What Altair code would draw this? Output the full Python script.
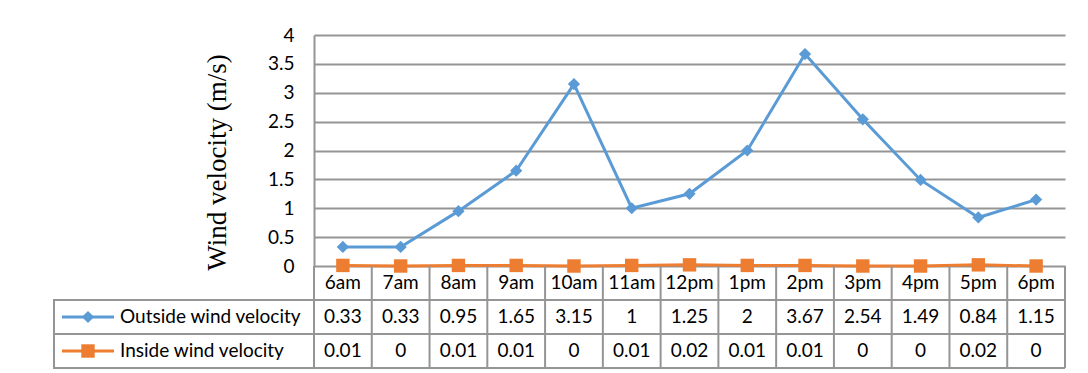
import altair as alt
import pandas as pd

# ---- data -------------------------------------------------------------
times = ["6am", "7am", "8am", "9am", "10am", "11am", "12pm",
         "1pm", "2pm", "3pm", "4pm", "5pm", "6pm"]
outside = [0.33, 0.33, 0.95, 1.65, 3.15, 1, 1.25, 2, 3.67, 2.54, 1.49, 0.84, 1.15]
inside = [0.01, 0, 0.01, 0.01, 0, 0.01, 0.02, 0.01, 0.01, 0, 0, 0.02, 0]
series = ["Outside wind velocity", "Inside wind velocity"]
colors = ["#5B9BD5", "#ED7D31"]
shapes = ["diamond", "square"]
marker_sizes = [150, 180]
y_ticks = [0, 0.5, 1, 1.5, 2, 2.5, 3, 3.5, 4]
y_title = "Wind velocity (m/s)"
row_keys = ["header"] + series

# ---- tables built from the arrays ------------------------------------
long = pd.DataFrame({
    "time": times * 2,
    "series": [series[0]] * len(times) + [series[1]] * len(times),
    "value": outside + inside,
})


def fmt(v):
    return f"{v:g}"


cells = pd.DataFrame({
    "time": times * 3,
    "row": ["header"] * len(times) + [series[0]] * len(times) + [series[1]] * len(times),
    "label": times + [fmt(v) for v in outside] + [fmt(v) for v in inside],
})
legend_rows = pd.DataFrame({"row": series})
col_edges = pd.DataFrame({"time": times})
row_edges = pd.DataFrame({"row": series})

# ---- style -------------------------------------------------------------
GRID = "#959595"
FONT = "Lato"
FS = 19
W, H, TH, LW = 751, 231, 102, 260

color = alt.Color("series:N", scale=alt.Scale(domain=series, range=colors), legend=None)
shape = alt.Shape("series:N", scale=alt.Scale(domain=series, range=shapes), legend=None)
size = alt.Size("series:N", scale=alt.Scale(domain=series, range=marker_sizes), legend=None)
rcolor = alt.Color("row:N", scale=alt.Scale(domain=series, range=colors), legend=None)
rshape = alt.Shape("row:N", scale=alt.Scale(domain=series, range=shapes), legend=None)
rsize = alt.Size("row:N", scale=alt.Scale(domain=series, range=marker_sizes), legend=None)

# ---- line chart --------------------------------------------------------
x_pt = alt.X("time:N", sort=times, scale=alt.Scale(type="point", padding=0.5), axis=None)
y_val = alt.Y(
    "value:Q",
    scale=alt.Scale(domain=[0, 4], nice=False),
    axis=alt.Axis(
        values=y_ticks, format="~g", title=y_title, grid=True, gridColor=GRID, gridWidth=2,
        domainColor=GRID, domainWidth=2, ticks=False, labelPadding=20,
        labelFont=FONT, labelFontSize=FS, labelColor="black",
        titleFont="Liberation Serif", titleFontSize=27, titleFontWeight="normal",
        titleColor="black", titlePadding=36, titleY=127,
    ),
)

lines = alt.Chart(long).mark_line(strokeWidth=3).encode(
    x=x_pt, y=y_val, color=color, detail="series:N")
points = alt.Chart(long).mark_point(filled=True, opacity=1).encode(
    x=x_pt, y=y_val, color=color, shape=shape, size=size)
top = alt.layer(lines, points).properties(width=W, height=H)

# ---- data table --------------------------------------------------------
xb = alt.X("time:N", sort=times,
           scale=alt.Scale(type="band", paddingInner=0, paddingOuter=0), axis=None)
yb = alt.Y("row:N", scale=alt.Scale(domain=row_keys, type="band",
                                    paddingInner=0, paddingOuter=0), axis=None)


def xb_at(pos):
    return alt.X("time:N", sort=times, bandPosition=pos,
                 scale=alt.Scale(type="band", paddingInner=0, paddingOuter=0), axis=None)


def yb_at(pos):
    return alt.Y("row:N", bandPosition=pos,
                 scale=alt.Scale(domain=row_keys, type="band",
                                 paddingInner=0, paddingOuter=0), axis=None)


t_vlines = alt.Chart(col_edges).mark_rule(color=GRID, strokeWidth=2).encode(x=xb_at(0))
t_vlast = alt.Chart(col_edges.tail(1)).mark_rule(color=GRID, strokeWidth=2).encode(x=xb_at(1))
t_hlines = alt.Chart(row_edges).mark_rule(color=GRID, strokeWidth=2).encode(y=yb_at(0))
t_hlast = alt.Chart(row_edges.tail(1)).mark_rule(color=GRID, strokeWidth=2).encode(y=yb_at(1))
t_text = alt.Chart(cells).mark_text(font=FONT, fontSize=FS, color="black").encode(
    x=xb, y=yb, text="label:N")
table = alt.layer(t_vlines, t_vlast, t_hlines, t_hlast, t_text).properties(width=W, height=TH)

# ---- legend column -----------------------------------------------------
l_rect = alt.Chart(legend_rows).mark_rect(fill="white", stroke=GRID, strokeWidth=2).encode(y=yb)
l_rule = alt.Chart(legend_rows).mark_rule(strokeWidth=3).encode(
    x=alt.value(8), x2=alt.value(60), y=yb, color=rcolor)
l_pt = alt.Chart(legend_rows).mark_point(filled=True, opacity=1).encode(
    x=alt.value(34), y=yb, color=rcolor, shape=rshape, size=rsize)
l_text = alt.Chart(legend_rows).mark_text(font=FONT, fontSize=FS, color="black",
                                          align="left").encode(
    x=alt.value(66), y=yb, text="row:N")
legcol = alt.layer(l_rect, l_rule, l_pt, l_text).properties(width=LW, height=TH)

# ---- spacer above legend column ---------------------------------------
spacer = alt.Chart(pd.DataFrame({"a": [0]})).mark_point(opacity=0).encode(
    x=alt.value(0), y=alt.value(0)).properties(width=LW, height=H)

chart = alt.concat(
    spacer, top, legcol, table, columns=2, spacing=0, bounds="flush", align="each"
).properties(
    padding={"left": 43, "top": 18, "right": 10, "bottom": 5}
).configure_view(stroke=None)

chart.save("out.html", embed_options={"renderer": "svg", "actions": False})
